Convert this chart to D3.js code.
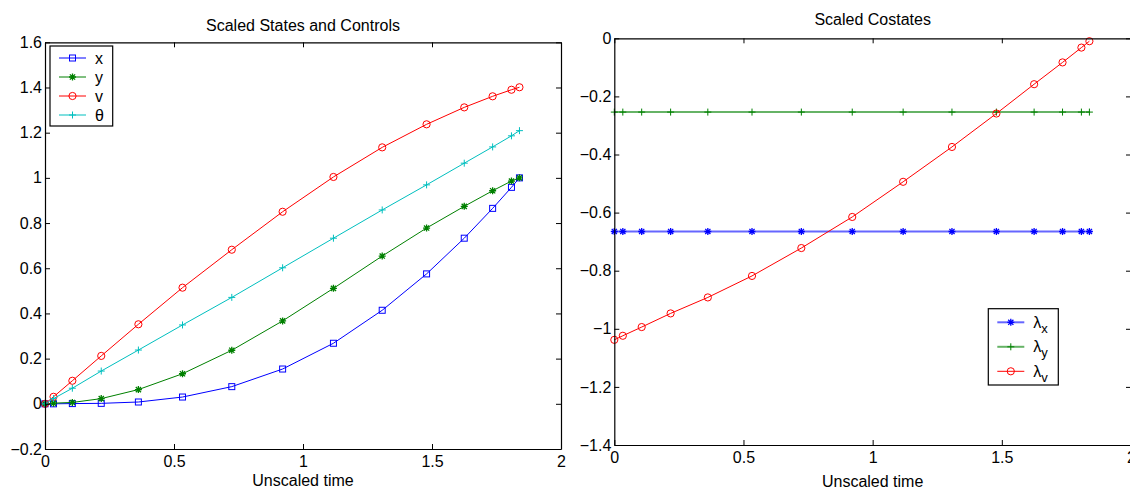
<!DOCTYPE html>
<html>
<head>
<meta charset="utf-8">
<title>Scaled States and Costates</title>
<script src="https://cdn.jsdelivr.net/npm/d3@7"></script>
<style>
body { margin: 0; background: #fff; }
svg { font-family: "Liberation Sans", Arial, sans-serif; }
.axis path, .axis line { stroke: #000; }
.axis text { font-size: 16px; fill: #000; }
.title, .xlabel { font-size: 16px; fill: #000; text-anchor: middle; }
.leg text { font-size: 16px; }
</style>
</head>
<body>
<script>
// time nodes (shared by both panels)
var time = [0, 0.033, 0.106, 0.218, 0.362, 0.533, 0.724, 0.921, 1.118, 1.307, 1.479, 1.625, 1.735, 1.808, 1.839];

// left panel: states and control
var xVals     = [0, 0, 0.001, 0.002, 0.008, 0.030, 0.076, 0.154, 0.268, 0.414, 0.575, 0.733, 0.865, 0.958, 1.0];
var yVals     = [0, 0.003, 0.006, 0.023, 0.063, 0.133, 0.237, 0.367, 0.511, 0.654, 0.778, 0.874, 0.943, 0.986, 1.0];
var vVals     = [0, 0.031, 0.102, 0.212, 0.352, 0.514, 0.682, 0.850, 1.004, 1.135, 1.237, 1.312, 1.361, 1.390, 1.401];
var thetaVals = [0, 0.023, 0.069, 0.145, 0.238, 0.349, 0.471, 0.602, 0.733, 0.858, 0.969, 1.065, 1.137, 1.186, 1.209];

// right panel: costates
var lamX = [-0.665, -0.665, -0.665, -0.665, -0.665, -0.665, -0.665, -0.665, -0.665, -0.665, -0.665, -0.665, -0.665, -0.665, -0.665];
var lamY = [-0.254, -0.254, -0.254, -0.254, -0.254, -0.254, -0.254, -0.254, -0.254, -0.254, -0.254, -0.254, -0.254, -0.254, -0.254];
var lamV = [-1.038, -1.024, -0.994, -0.947, -0.892, -0.818, -0.722, -0.615, -0.494, -0.374, -0.259, -0.158, -0.083, -0.032, -0.010];

var xTicks = [0, 0.5, 1, 1.5, 2];
var yTicksLeft = [-0.2, 0, 0.2, 0.4, 0.6, 0.8, 1, 1.2, 1.4, 1.6];
var yTicksRight = [-1.4, -1.2, -1, -0.8, -0.6, -0.4, -0.2, 0];

var width = 1130, height = 489;
var svg = d3.select("body").append("svg")
    .attr("width", width)
    .attr("height", height);

var fmt = d3.format("~g");

// draws one marker shape at 0,0
function marker(g, kind, color) {
  if (kind == "square") {
    g.append("rect").attr("x", -3).attr("y", -3).attr("width", 6).attr("height", 6)
      .attr("fill", "none").attr("stroke", color);
  } else if (kind == "circle") {
    g.append("circle").attr("r", 3.6).attr("fill", "none").attr("stroke", color);
  } else if (kind == "plus") {
    g.append("path").attr("d", "M-3.5,0H3.5M0,-3.5V3.5").attr("stroke", color);
  } else if (kind == "star") {
    g.append("path").attr("d", "M-3.5,0H3.5M0,-3.5V3.5M-2.6,-2.6L2.6,2.6M-2.6,2.6L2.6,-2.6")
      .attr("stroke", color).attr("stroke-width", 1.3);
  }
}

function panel(opt) {
  var x = d3.scaleLinear().domain([0, 2]).range([opt.left, opt.right]);
  var y = d3.scaleLinear().domain(opt.yDomain).range([opt.bottom, opt.top]);
  var g = svg.append("g");

  // series
  opt.series.forEach(function(s) {
    var line = d3.line()
      .x(function(d, i) { return x(time[i]); })
      .y(function(d) { return y(d); });
    g.append("path")
      .datum(s.values)
      .attr("fill", "none")
      .attr("stroke", s.color)
      .attr("stroke-width", s.width || 1)
      .attr("stroke-opacity", s.opacity || 1)
      .attr("d", line);
    g.selectAll(null)
      .data(s.values)
      .enter().append("g")
      .attr("transform", function(d, i) { return "translate(" + x(time[i]) + "," + y(d) + ")"; })
      .each(function() { marker(d3.select(this), s.marker, s.color); });
  });

  // axes, MATLAB-style box with inward ticks
  g.append("g").attr("class", "axis")
    .attr("transform", "translate(0," + opt.bottom + ")")
    .call(d3.axisBottom(x).tickValues(xTicks).tickFormat(fmt).tickSizeInner(-5).tickSizeOuter(0).tickPadding(7));
  g.append("g").attr("class", "axis")
    .attr("transform", "translate(0," + opt.top + ")")
    .call(d3.axisTop(x).tickValues(xTicks).tickFormat("").tickSizeInner(-5).tickSizeOuter(0));
  g.append("g").attr("class", "axis")
    .attr("transform", "translate(" + opt.left + ",0)")
    .call(d3.axisLeft(y).tickValues(opt.yTicks).tickFormat(fmt).tickSizeInner(-5).tickSizeOuter(0).tickPadding(3));
  g.append("g").attr("class", "axis")
    .attr("transform", "translate(" + opt.right + ",0)")
    .call(d3.axisRight(y).tickValues(opt.yTicks).tickFormat("").tickSizeInner(-5).tickSizeOuter(0));
  g.selectAll(".axis .domain").attr("stroke-width", 1.2);

  g.append("text").attr("class", "title")
    .attr("x", (opt.left + opt.right) / 2).attr("y", opt.titleY)
    .text(opt.title);
  g.append("text").attr("class", "xlabel")
    .attr("x", (opt.left + opt.right) / 2).attr("y", opt.xlabelY)
    .text("Unscaled time");

  // legend
  var L = opt.legend;
  var leg = g.append("g").attr("class", "leg");
  leg.append("rect")
    .attr("x", L.x).attr("y", L.y).attr("width", L.w).attr("height", L.h)
    .attr("fill", "#fff").attr("stroke", "#000").attr("stroke-width", 1.2);
  opt.series.forEach(function(s, i) {
    var ry = L.y + L.first + i * L.step;
    leg.append("line")
      .attr("x1", L.x + 9).attr("x2", L.x + 36).attr("y1", ry).attr("y2", ry)
      .attr("stroke", s.color).attr("stroke-width", s.width || 1).attr("stroke-opacity", s.opacity || 1);
    marker(leg.append("g").attr("transform", "translate(" + (L.x + 22.5) + "," + ry + ")"), s.marker, s.color);
    var t = leg.append("text").attr("x", L.x + 45).attr("y", ry + 5.5);
    t.append("tspan").text(s.name);
    if (s.sub) t.append("tspan").attr("dy", 5).style("font-size", "13px").text(s.sub);
  });
}

panel({
  left: 45, right: 561, top: 42.3, bottom: 449,
  yDomain: [-0.2, 1.6], yTicks: yTicksLeft,
  title: "Scaled States and Controls", titleY: 30.5, xlabelY: 486,
  series: [
    { name: "x", values: xVals, color: "#0000ff", marker: "square" },
    { name: "y", values: yVals, color: "#008000", marker: "star" },
    { name: "v", values: vVals, color: "#ff0000", marker: "circle" },
    { name: "\u03b8", values: thetaVals, color: "#00bfbf", marker: "plus" }
  ],
  legend: { x: 50, y: 46, w: 62.7, h: 80, first: 12, step: 19 }
});

panel({
  left: 614.3, right: 1131, top: 38.3, bottom: 445,
  yDomain: [-1.4, 0], yTicks: yTicksRight,
  title: "Scaled Costates", titleY: 24.5, xlabelY: 487,
  series: [
    { name: "\u03bb", sub: "x", values: lamX, color: "#0000ff", marker: "star", width: 2, opacity: 0.6 },
    { name: "\u03bb", sub: "y", values: lamY, color: "#008000", marker: "plus", width: 2, opacity: 0.6 },
    { name: "\u03bb", sub: "v", values: lamV, color: "#ff0000", marker: "circle" }
  ],
  legend: { x: 988.3, y: 308.7, w: 70, h: 76.3, first: 13.6, step: 24.5 }
});
</script>
</body>
</html>
